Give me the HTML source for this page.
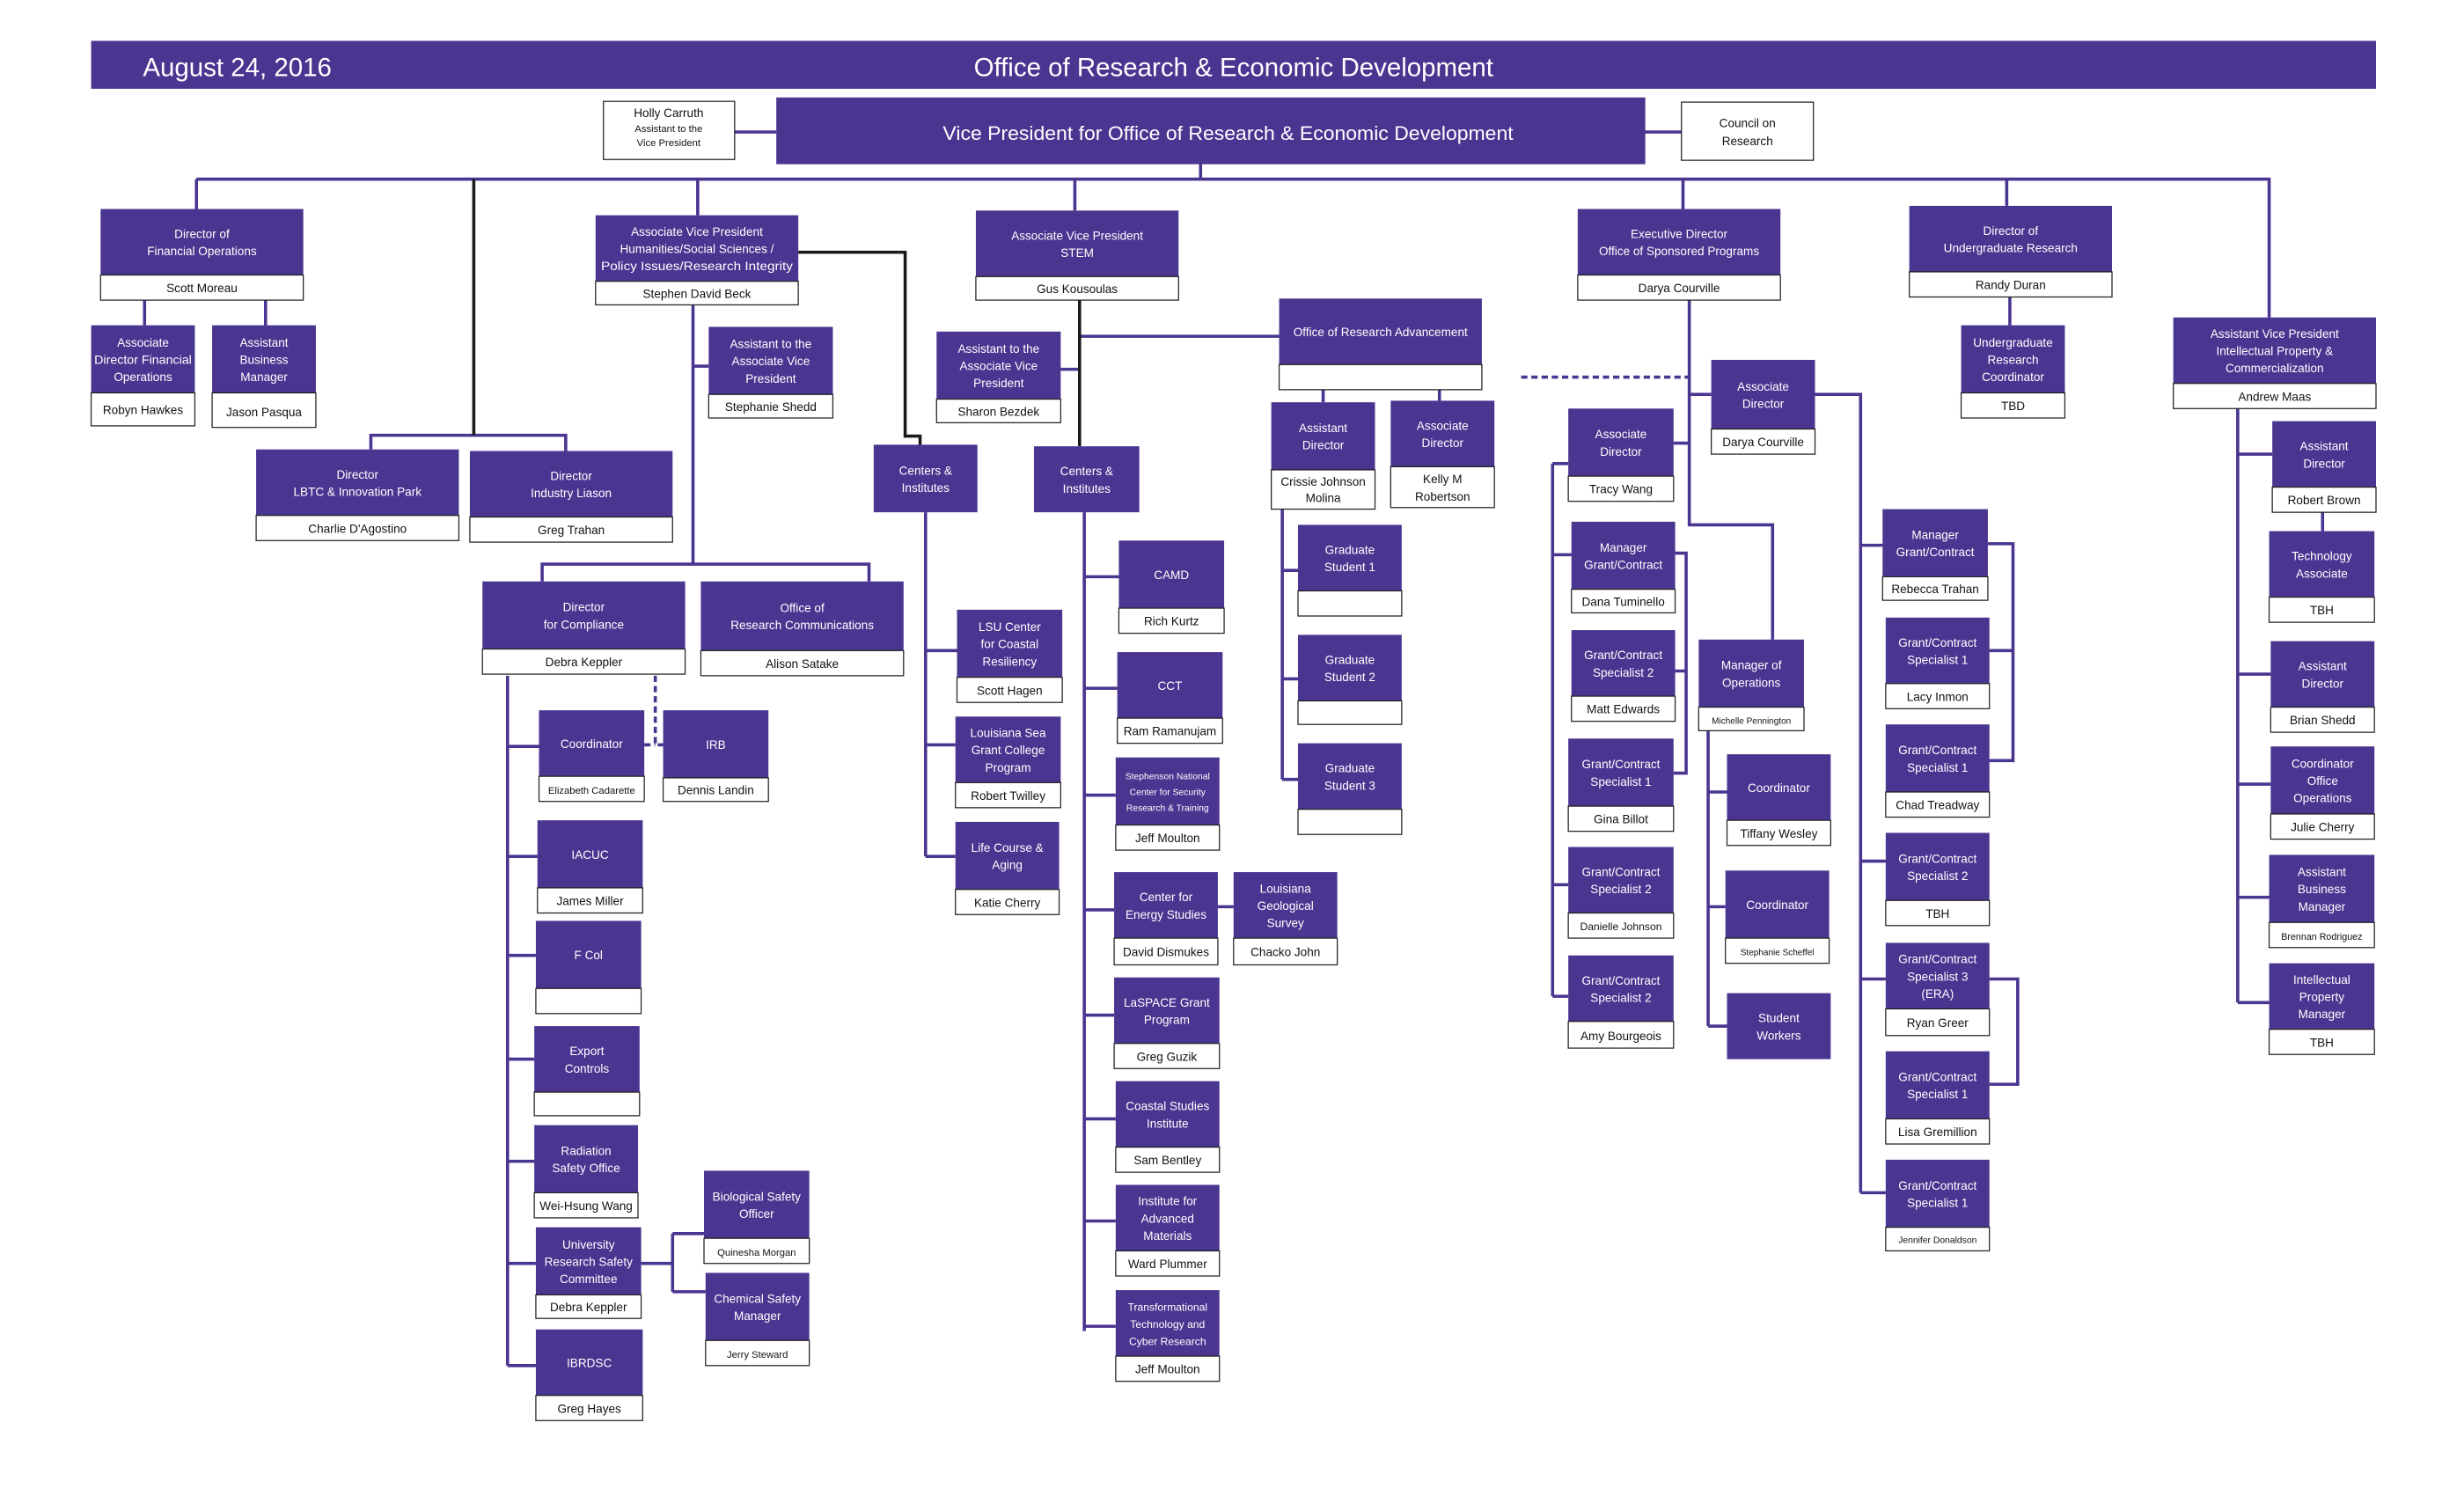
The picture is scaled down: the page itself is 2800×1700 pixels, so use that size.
<!DOCTYPE html>
<html><head><meta charset="utf-8"><style>
html,body{margin:0;padding:0;background:#fff;}
svg{display:block;}
text{font-family:"Liberation Sans Narrow","Liberation Sans",sans-serif;text-anchor:middle;}
.w{fill:#fff;font-size:7.6px;}
.k{fill:#111;font-size:7.6px;}
.s{font-size:6.3px;}
.p{fill:#4a3590;}
.nm{fill:#fff;stroke:#222;stroke-width:0.7;}
.l{stroke:#4a3590;stroke-width:2;fill:none;}
.b{stroke:#1a1a1a;stroke-width:2;fill:none;}
</style></head><body>
<svg width="2800" height="1700" viewBox="0 0 1568 952" xmlns="http://www.w3.org/2000/svg">
<!-- lines -->
<g class="l">
<path d="M467 84H494M1046 84H1070"/>
<path d="M764 104V114M125 114H1444V202"/>
<path d="M125 114V133M444 114V137M684 114V134M1071 114V133M1277 114V131"/>
<path d="M92 191V207M169 191V207"/>
<path d="M236 286V277H360V287"/>
<path d="M441 194V359M441 233H451M345 370V359H553V370"/>
<path d="M323 430V869M323 475H343M323 545H342M323 608H341M323 674H340M323 739H340M323 804H341M323 869H341"/>
<path d="M408 804H428M428 785V822M428 785H448M428 822H449"/>
<path d="M589 326V545M589 414H609M589 474H608M589 545H608"/>
<path d="M690 326V847M690 367H712M690 438H711M690 506H710M690 579H709M690 646H709M690 712H710M690 777H710M690 844H710M775 577H785"/>
<path d="M675 235H687M687 214H814"/>
<path d="M842 248V256M916 248V255M816 324V496M816 363H826M816 432H826M816 496H826"/>
<path d="M1075 191V334H1128V407M1065 282H1075M1075 251H1089"/>
<path d="M988 295V634M988 295H998M988 353H1000M988 563H998M988 634H998M1066 352H1073V492H1065M1066 427H1073"/>
<path d="M1087 465V653M1087 504H1099M1087 577H1098M1087 653H1099"/>
<path d="M1155 251H1184V759M1184 347H1198M1184 548H1200M1184 623H1200M1184 759H1200M1265 346H1281V484H1266M1266 414H1281M1266 623H1284V690H1266"/>
<path d="M1279 189V207"/>
<path d="M1424 260V638M1424 289H1446M1424 429H1445M1424 499H1445M1424 571H1444M1424 638H1444M1478 326V338"/>
<path d="M417 430V474H422M410 474H417" stroke-dasharray="4 2.5"/>
<path d="M968 240H1075" stroke-dasharray="4 2.5"/>
</g>
<g class="b">
<path d="M301.5 114V277"/>
<path d="M508 160.5H576V277.5H585.5V283"/>
<path d="M687 191V284"/>
</g>

<!-- header -->
<rect x="58" y="26" width="1454" height="30.5" class="p"/>
<text x="151" y="48.5" style="fill:#fff;font-size:16.5px">August 24, 2016</text>
<text x="785" y="48.5" style="fill:#fff;font-size:16.5px">Office of Research &amp; Economic Development</text>

<!-- VP -->
<rect x="494" y="62" width="553" height="42.5" class="p"/>
<text x="781.5" y="89" textLength="363" lengthAdjust="spacingAndGlyphs" style="fill:#fff;font-size:12.5px">Vice President for Office of Research &amp; Economic Development</text>
<rect x="384" y="64.5" width="83.5" height="37" class="nm"/>
<text x="425.5" y="74.5" class="k">Holly Carruth</text>
<text x="425.5" y="84" class="k s">Assistant to the</text>
<text x="425.5" y="93" class="k s">Vice President</text>
<rect x="1070" y="65" width="84" height="37" class="nm"/>
<text x="1112" y="81" class="k">Council on</text>
<text x="1112" y="92.5" class="k">Research</text>

<!-- Financial -->
<rect x="64" y="133" width="129" height="42" class="p"/><rect x="64" y="175" width="129" height="16" class="nm"/>
<text x="128.5" y="151.5" class="w">Director of</text><text x="128.5" y="162.5" class="w">Financial Operations</text><text x="128.5" y="186" class="k">Scott Moreau</text>

<rect x="58" y="207" width="66" height="43" class="p"/><rect x="58" y="250" width="66" height="21" class="nm"/>
<text x="91" y="220.5" class="w">Associate</text><text x="91" y="231.5" class="w" textLength="62" lengthAdjust="spacingAndGlyphs">Director Financial</text><text x="91" y="242.5" class="w">Operations</text><text x="91" y="263.5" class="k">Robyn Hawkes</text>

<rect x="135" y="207" width="66" height="43" class="p"/><rect x="135" y="250" width="66" height="22" class="nm"/>
<text x="168" y="220.5" class="w">Assistant</text><text x="168" y="231.5" class="w">Business</text><text x="168" y="242.5" class="w">Manager</text><text x="168" y="265" class="k">Jason Pasqua</text>

<rect x="163" y="286" width="129" height="42" class="p"/><rect x="163" y="328" width="129" height="16" class="nm"/>
<text x="227.5" y="304.5" class="w">Director</text><text x="227.5" y="315.5" class="w">LBTC &amp; Innovation Park</text><text x="227.5" y="339" class="k">Charlie D'Agostino</text>

<rect x="299" y="287" width="129" height="42" class="p"/><rect x="299" y="329" width="129" height="16" class="nm"/>
<text x="363.5" y="305.5" class="w">Director</text><text x="363.5" y="316.5" class="w">Industry Liason</text><text x="363.5" y="340" class="k">Greg Trahan</text>

<!-- Humanities -->
<rect x="379" y="137" width="129" height="42" class="p"/><rect x="379" y="179" width="129" height="15" class="nm"/>
<text x="443.5" y="150" class="w">Associate Vice President</text><text x="443.5" y="161" class="w">Humanities/Social Sciences /</text><text x="443.5" y="172" class="w" textLength="122" lengthAdjust="spacingAndGlyphs">Policy Issues/Research Integrity</text><text x="443.5" y="189.5" class="k">Stephen David Beck</text>

<rect x="451" y="208" width="79" height="43" class="p"/><rect x="451" y="251" width="79" height="15" class="nm"/>
<text x="490.5" y="221.5" class="w">Assistant to the</text><text x="490.5" y="232.5" class="w">Associate Vice</text><text x="490.5" y="243.5" class="w">President</text><text x="490.5" y="261.5" class="k">Stephanie Shedd</text>

<rect x="556" y="283" width="66" height="43" class="p"/>
<text x="589" y="302" class="w">Centers &amp;</text><text x="589" y="313" class="w">Institutes</text>

<rect x="307" y="370" width="129" height="43" class="p"/><rect x="307" y="413" width="129" height="16" class="nm"/>
<text x="371.5" y="389" class="w">Director</text><text x="371.5" y="400" class="w">for  Compliance</text><text x="371.5" y="424" class="k">Debra Keppler</text>

<rect x="446" y="370" width="129" height="44" class="p"/><rect x="446" y="414" width="129" height="16" class="nm"/>
<text x="510.5" y="389.5" class="w">Office of</text><text x="510.5" y="400.5" class="w">Research Communications</text><text x="510.5" y="425" class="k">Alison Satake</text>

<rect x="343" y="452" width="67" height="42" class="p"/><rect x="343" y="494" width="67" height="16" class="nm"/>
<text x="376.5" y="476" class="w">Coordinator</text><text x="376.5" y="505" class="k s">Elizabeth Cadarette</text>

<rect x="422" y="452" width="67" height="43" class="p"/><rect x="422" y="495" width="67" height="15" class="nm"/>
<text x="455.5" y="476.5" class="w">IRB</text><text x="455.5" y="505.5" class="k">Dennis Landin</text>

<rect x="342" y="522" width="67" height="43" class="p"/><rect x="342" y="565" width="67" height="16" class="nm"/>
<text x="375.5" y="546.5" class="w">IACUC</text><text x="375.5" y="576" class="k">James Miller</text>

<rect x="341" y="586" width="67" height="43" class="p"/><rect x="341" y="629" width="67" height="16" class="nm"/>
<text x="374.5" y="610.5" class="w">F Col</text>

<rect x="340" y="653" width="67" height="42" class="p"/><rect x="340" y="695" width="67" height="15" class="nm"/>
<text x="373.5" y="671.5" class="w">Export</text><text x="373.5" y="682.5" class="w">Controls</text>

<rect x="340" y="716" width="66" height="43" class="p"/><rect x="340" y="759" width="66" height="16" class="nm"/>
<text x="373" y="735" class="w">Radiation</text><text x="373" y="746" class="w">Safety Office</text><text x="373" y="770" class="k">Wei-Hsung Wang</text>

<rect x="341" y="781" width="67" height="43" class="p"/><rect x="341" y="824" width="67" height="15" class="nm"/>
<text x="374.5" y="794.5" class="w">University</text><text x="374.5" y="805.5" class="w">Research Safety</text><text x="374.5" y="816.5" class="w">Committee</text><text x="374.5" y="834.5" class="k">Debra Keppler</text>

<rect x="341" y="846" width="68" height="42" class="p"/><rect x="341" y="888" width="68" height="16" class="nm"/>
<text x="375" y="870" class="w">IBRDSC</text><text x="375" y="899" class="k">Greg Hayes</text>

<rect x="448" y="745" width="67" height="43" class="p"/><rect x="448" y="788" width="67" height="16" class="nm"/>
<text x="481.5" y="764" class="w">Biological Safety</text><text x="481.5" y="775" class="w">Officer</text><text x="481.5" y="799" class="k s">Quinesha Morgan</text>

<rect x="449" y="810" width="66" height="43" class="p"/><rect x="449" y="853" width="66" height="16" class="nm"/>
<text x="482" y="829" class="w">Chemical Safety</text><text x="482" y="840" class="w">Manager</text><text x="482" y="864" class="k s">Jerry Steward</text>

<rect x="609" y="388" width="67" height="43" class="p"/><rect x="609" y="431" width="67" height="16" class="nm"/>
<text x="642.5" y="401.5" class="w">LSU Center</text><text x="642.5" y="412.5" class="w">for Coastal</text><text x="642.5" y="423.5" class="w">Resiliency</text><text x="642.5" y="442" class="k">Scott Hagen</text>

<rect x="608" y="456" width="67" height="42" class="p"/><rect x="608" y="498" width="67" height="16" class="nm"/>
<text x="641.5" y="469" class="w">Louisiana Sea</text><text x="641.5" y="480" class="w">Grant College</text><text x="641.5" y="491" class="w">Program</text><text x="641.5" y="509" class="k">Robert Twilley</text>

<rect x="608" y="523" width="66" height="43" class="p"/><rect x="608" y="566" width="66" height="16" class="nm"/>
<text x="641" y="542" class="w">Life Course &amp;</text><text x="641" y="553" class="w">Aging</text><text x="641" y="577" class="k">Katie Cherry</text>

<!-- STEM -->
<rect x="621" y="134" width="129" height="42" class="p"/><rect x="621" y="176" width="129" height="15" class="nm"/>
<text x="685.5" y="152.5" class="w">Associate Vice President</text><text x="685.5" y="163.5" class="w">STEM</text><text x="685.5" y="186.5" class="k">Gus Kousoulas</text>

<rect x="596" y="211" width="79" height="43" class="p"/><rect x="596" y="254" width="79" height="15" class="nm"/>
<text x="635.5" y="224.5" class="w">Assistant to the</text><text x="635.5" y="235.5" class="w">Associate Vice</text><text x="635.5" y="246.5" class="w">President</text><text x="635.5" y="264.5" class="k">Sharon Bezdek</text>

<rect x="658" y="284" width="67" height="42" class="p"/>
<text x="691.5" y="302.5" class="w">Centers &amp;</text><text x="691.5" y="313.5" class="w">Institutes</text>

<rect x="712" y="344" width="67" height="43" class="p"/><rect x="712" y="387" width="67" height="16" class="nm"/>
<text x="745.5" y="368.5" class="w">CAMD</text><text x="745.5" y="398" class="k">Rich Kurtz</text>

<rect x="711" y="415" width="67" height="42" class="p"/><rect x="711" y="457" width="67" height="16" class="nm"/>
<text x="744.5" y="439" class="w">CCT</text><text x="744.5" y="468" class="k">Ram Ramanujam</text>

<rect x="710" y="482" width="66" height="43" class="p"/><rect x="710" y="525" width="66" height="16" class="nm"/>
<text x="743" y="496" class="w" style="font-size:5.8px">Stephenson National</text><text x="743" y="506" class="w" style="font-size:5.8px">Center for Security</text><text x="743" y="516" class="w" style="font-size:5.8px">Research &amp; Training</text><text x="743" y="536" class="k">Jeff Moulton</text>

<rect x="709" y="555" width="66" height="42" class="p"/><rect x="709" y="597" width="66" height="17" class="nm"/>
<text x="742" y="573.5" class="w">Center for</text><text x="742" y="584.5" class="w">Energy Studies</text><text x="742" y="608.5" class="k">David Dismukes</text>

<rect x="785" y="555" width="66" height="42" class="p"/><rect x="785" y="597" width="66" height="17" class="nm"/>
<text x="818" y="568" class="w">Louisiana</text><text x="818" y="579" class="w">Geological</text><text x="818" y="590" class="w">Survey</text><text x="818" y="608.5" class="k">Chacko John</text>

<rect x="709" y="622" width="67" height="42" class="p"/><rect x="709" y="664" width="67" height="16" class="nm"/>
<text x="742.5" y="640.5" class="w">LaSPACE Grant</text><text x="742.5" y="651.5" class="w">Program</text><text x="742.5" y="675" class="k">Greg Guzik</text>

<rect x="710" y="688" width="66" height="42" class="p"/><rect x="710" y="730" width="66" height="16" class="nm"/>
<text x="743" y="706.5" class="w">Coastal Studies</text><text x="743" y="717.5" class="w">Institute</text><text x="743" y="741" class="k">Sam Bentley</text>

<rect x="710" y="754" width="66" height="42" class="p"/><rect x="710" y="796" width="66" height="16" class="nm"/>
<text x="743" y="767" class="w">Institute for</text><text x="743" y="778" class="w">Advanced</text><text x="743" y="789" class="w">Materials</text><text x="743" y="807" class="k">Ward Plummer</text>

<rect x="710" y="821" width="66" height="42" class="p"/><rect x="710" y="863" width="66" height="16" class="nm"/>
<text x="743" y="834" class="w" style="font-size:6.8px">Transformational</text><text x="743" y="845" class="w" style="font-size:6.8px">Technology and</text><text x="743" y="856" class="w" style="font-size:6.8px">Cyber Research</text><text x="743" y="874" class="k">Jeff Moulton</text>

<!-- ORA -->
<rect x="814" y="190" width="129" height="42" class="p"/><rect x="814" y="232" width="129" height="16" class="nm"/>
<text x="878.5" y="214" class="w">Office of Research Advancement</text>

<rect x="809" y="256" width="66" height="43" class="p"/><rect x="809" y="299" width="66" height="25" class="nm"/>
<text x="842" y="275" class="w">Assistant</text><text x="842" y="286" class="w">Director</text><text x="842" y="309" class="k">Crissie Johnson</text><text x="842" y="319.5" class="k">Molina</text>

<rect x="885" y="255" width="66" height="42" class="p"/><rect x="885" y="297" width="66" height="26" class="nm"/>
<text x="918" y="273.5" class="w">Associate</text><text x="918" y="284.5" class="w">Director</text><text x="918" y="307.5" class="k">Kelly M</text><text x="918" y="318.5" class="k">Robertson</text>

<rect x="826" y="334" width="66" height="42" class="p"/><rect x="826" y="376" width="66" height="16" class="nm"/>
<text x="859" y="352.5" class="w">Graduate</text><text x="859" y="363.5" class="w">Student 1</text>
<rect x="826" y="404" width="66" height="42" class="p"/><rect x="826" y="446" width="66" height="15" class="nm"/>
<text x="859" y="422.5" class="w">Graduate</text><text x="859" y="433.5" class="w">Student 2</text>
<rect x="826" y="473" width="66" height="42" class="p"/><rect x="826" y="515" width="66" height="16" class="nm"/>
<text x="859" y="491.5" class="w">Graduate</text><text x="859" y="502.5" class="w">Student 3</text>

<!-- OSP -->
<rect x="1004" y="133" width="129" height="42" class="p"/><rect x="1004" y="175" width="129" height="16" class="nm"/>
<text x="1068.5" y="151.5" class="w">Executive Director</text><text x="1068.5" y="162.5" class="w">Office of Sponsored Programs</text><text x="1068.5" y="186" class="k">Darya Courville</text>

<rect x="1089" y="229" width="66" height="44" class="p"/><rect x="1089" y="273" width="66" height="16" class="nm"/>
<text x="1122" y="248.5" class="w">Associate</text><text x="1122" y="259.5" class="w">Director</text><text x="1122" y="284" class="k">Darya Courville</text>

<rect x="998" y="260" width="67" height="43" class="p"/><rect x="998" y="303" width="67" height="16" class="nm"/>
<text x="1031.5" y="279" class="w">Associate</text><text x="1031.5" y="290" class="w">Director</text><text x="1031.5" y="314" class="k">Tracy Wang</text>

<rect x="1000" y="332" width="66" height="43" class="p"/><rect x="1000" y="375" width="66" height="15" class="nm"/>
<text x="1033" y="351" class="w">Manager</text><text x="1033" y="362" class="w">Grant/Contract</text><text x="1033" y="385.5" class="k">Dana Tuminello</text>

<rect x="1000" y="401" width="66" height="42" class="p"/><rect x="1000" y="443" width="66" height="16" class="nm"/>
<text x="1033" y="419.5" class="w">Grant/Contract</text><text x="1033" y="430.5" class="w">Specialist 2</text><text x="1033" y="454" class="k">Matt Edwards</text>

<rect x="998" y="470" width="67" height="43" class="p"/><rect x="998" y="513" width="67" height="16" class="nm"/>
<text x="1031.5" y="489" class="w">Grant/Contract</text><text x="1031.5" y="500" class="w">Specialist 1</text><text x="1031.5" y="524" class="k">Gina Billot</text>

<rect x="998" y="539" width="67" height="42" class="p"/><rect x="998" y="581" width="67" height="16" class="nm"/>
<text x="1031.5" y="557.5" class="w">Grant/Contract</text><text x="1031.5" y="568.5" class="w">Specialist 2</text><text x="1031.5" y="592" class="k" style="font-size:6.8px">Danielle Johnson</text>

<rect x="998" y="608" width="67" height="42" class="p"/><rect x="998" y="650" width="67" height="17" class="nm"/>
<text x="1031.5" y="626.5" class="w">Grant/Contract</text><text x="1031.5" y="637.5" class="w">Specialist 2</text><text x="1031.5" y="662" class="k">Amy Bourgeois</text>

<rect x="1081" y="407" width="67" height="43" class="p"/><rect x="1081" y="450" width="67" height="15" class="nm"/>
<text x="1114.5" y="426" class="w">Manager of</text><text x="1114.5" y="437" class="w">Operations</text><text x="1114.5" y="460.5" class="k" style="font-size:5.6px">Michelle Pennington</text>

<rect x="1099" y="480" width="66" height="42" class="p"/><rect x="1099" y="522" width="66" height="16" class="nm"/>
<text x="1132" y="504" class="w">Coordinator</text><text x="1132" y="533" class="k">Tiffany Wesley</text>

<rect x="1098" y="554" width="66" height="43" class="p"/><rect x="1098" y="597" width="66" height="16" class="nm"/>
<text x="1131" y="578.5" class="w">Coordinator</text><text x="1131" y="608" class="k" style="font-size:5.6px">Stephanie Scheffel</text>

<rect x="1099" y="632" width="66" height="42" class="p"/>
<text x="1132" y="650.5" class="w">Student</text><text x="1132" y="661.5" class="w">Workers</text>

<rect x="1198" y="324" width="67" height="43" class="p"/><rect x="1198" y="367" width="67" height="15" class="nm"/>
<text x="1231.5" y="343" class="w">Manager</text><text x="1231.5" y="354" class="w">Grant/Contract</text><text x="1231.5" y="377.5" class="k">Rebecca Trahan</text>

<rect x="1200" y="393" width="66" height="42" class="p"/><rect x="1200" y="435" width="66" height="16" class="nm"/>
<text x="1233" y="411.5" class="w">Grant/Contract</text><text x="1233" y="422.5" class="w">Specialist 1</text><text x="1233" y="446" class="k">Lacy Inmon</text>

<rect x="1200" y="461" width="66" height="43" class="p"/><rect x="1200" y="504" width="66" height="16" class="nm"/>
<text x="1233" y="480" class="w">Grant/Contract</text><text x="1233" y="491" class="w">Specialist 1</text><text x="1233" y="515" class="k">Chad Treadway</text>

<rect x="1200" y="530" width="66" height="43" class="p"/><rect x="1200" y="573" width="66" height="16" class="nm"/>
<text x="1233" y="549" class="w">Grant/Contract</text><text x="1233" y="560" class="w">Specialist 2</text><text x="1233" y="584" class="k">TBH</text>

<rect x="1200" y="600" width="66" height="42" class="p"/><rect x="1200" y="642" width="66" height="17" class="nm"/>
<text x="1233" y="613" class="w">Grant/Contract</text><text x="1233" y="624" class="w">Specialist 3</text><text x="1233" y="635" class="w">(ERA)</text><text x="1233" y="653.5" class="k">Ryan Greer</text>

<rect x="1200" y="669" width="66" height="43" class="p"/><rect x="1200" y="712" width="66" height="16" class="nm"/>
<text x="1233" y="688" class="w">Grant/Contract</text><text x="1233" y="699" class="w">Specialist 1</text><text x="1233" y="723" class="k">Lisa Gremillion</text>

<rect x="1200" y="738" width="66" height="43" class="p"/><rect x="1200" y="781" width="66" height="15" class="nm"/>
<text x="1233" y="757" class="w">Grant/Contract</text><text x="1233" y="768" class="w">Specialist 1</text><text x="1233" y="791" class="k" style="font-size:5.8px">Jennifer Donaldson</text>

<!-- UG -->
<rect x="1215" y="131" width="129" height="42" class="p"/><rect x="1215" y="173" width="129" height="16" class="nm"/>
<text x="1279.5" y="149.5" class="w">Director of</text><text x="1279.5" y="160.5" class="w">Undergraduate Research</text><text x="1279.5" y="184" class="k">Randy Duran</text>

<rect x="1248" y="207" width="66" height="43" class="p"/><rect x="1248" y="250" width="66" height="16" class="nm"/>
<text x="1281" y="220.5" class="w">Undergraduate</text><text x="1281" y="231.5" class="w">Research</text><text x="1281" y="242.5" class="w">Coordinator</text><text x="1281" y="261" class="k">TBD</text>

<!-- IP -->
<rect x="1383" y="202" width="129" height="42" class="p"/><rect x="1383" y="244" width="129" height="16" class="nm"/>
<text x="1447.5" y="215" class="w">Assistant Vice President</text><text x="1447.5" y="226" class="w">Intellectual Property &amp;</text><text x="1447.5" y="237" class="w">Commercialization</text><text x="1447.5" y="255" class="k">Andrew Maas</text>

<rect x="1446" y="268" width="66" height="42" class="p"/><rect x="1446" y="310" width="66" height="16" class="nm"/>
<text x="1479" y="286.5" class="w">Assistant</text><text x="1479" y="297.5" class="w">Director</text><text x="1479" y="321" class="k">Robert Brown</text>

<rect x="1444" y="338" width="67" height="42" class="p"/><rect x="1444" y="380" width="67" height="16" class="nm"/>
<text x="1477.5" y="356.5" class="w">Technology</text><text x="1477.5" y="367.5" class="w">Associate</text><text x="1477.5" y="391" class="k">TBH</text>

<rect x="1445" y="408" width="66" height="42" class="p"/><rect x="1445" y="450" width="66" height="16" class="nm"/>
<text x="1478" y="426.5" class="w">Assistant</text><text x="1478" y="437.5" class="w">Director</text><text x="1478" y="461" class="k">Brian Shedd</text>

<rect x="1445" y="475" width="66" height="43" class="p"/><rect x="1445" y="518" width="66" height="16" class="nm"/>
<text x="1478" y="488.5" class="w">Coordinator</text><text x="1478" y="499.5" class="w">Office</text><text x="1478" y="510.5" class="w">Operations</text><text x="1478" y="529" class="k">Julie Cherry</text>

<rect x="1444" y="544" width="67" height="43" class="p"/><rect x="1444" y="587" width="67" height="16" class="nm"/>
<text x="1477.5" y="557.5" class="w">Assistant</text><text x="1477.5" y="568.5" class="w">Business</text><text x="1477.5" y="579.5" class="w">Manager</text><text x="1477.5" y="598" class="k" style="font-size:6px">Brennan Rodriguez</text>

<rect x="1444" y="613" width="67" height="42" class="p"/><rect x="1444" y="655" width="67" height="16" class="nm"/>
<text x="1477.5" y="626" class="w">Intellectual</text><text x="1477.5" y="637" class="w">Property</text><text x="1477.5" y="648" class="w">Manager</text><text x="1477.5" y="666" class="k">TBH</text>
</svg>
</body></html>
